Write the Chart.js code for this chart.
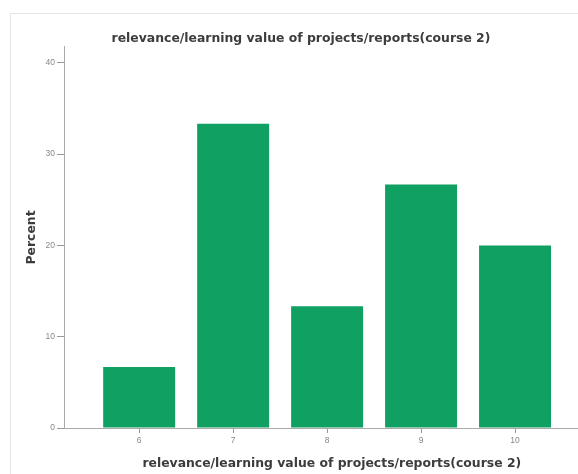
<!DOCTYPE html>
<html>
<head>
<meta charset="utf-8">
<script src="https://cdn.jsdelivr.net/npm/chart.js@4"></script>
<style>
  html, body { margin: 0; padding: 0; background: #fff; }
  #wrap { position: relative; width: 578px; height: 474px; }
  #frame { position: absolute; left: 10px; top: 13px; right: 0; bottom: 0;
           border-left: 1px solid #e4e4e4; border-top: 1px solid #e4e4e4; }
  canvas { position: absolute; left: 0; top: 0; }
</style>
</head>
<body>
<div id="wrap">
  <div id="frame"></div>
  <canvas id="myChart" width="578" height="474"></canvas>
</div>
<script>
const categories = [6, 7, 8, 9, 10];
const percents = [6.67, 33.33, 13.33, 26.67, 20.0];
const yTicks = [0, 10, 20, 30, 40];
const titleText = 'relevance/learning value of projects/reports(course 2)';

const labelFont = { family: 'DejaVu Sans', size: 12.4, weight: 'bold', lineHeight: 1.2 };

const ctx = document.getElementById('myChart').getContext('2d');
const myChart = new Chart(ctx, {
  type: 'bar',
  data: {
    datasets: [{
      label: 'Percent',
      data: categories.map((c, i) => ({ x: c, y: percents[i] })),
      backgroundColor: '#10a062',
      borderWidth: 0,
      categoryPercentage: 1,
      barPercentage: 0.766
    }]
  },
  options: {
    responsive: false,
    animation: false,
    layout: { padding: { left: 24 } },
    plugins: {
      legend: { display: false },
      tooltip: { enabled: false },
      title: {
        display: true,
        text: titleText,
        color: '#3c3c3c',
        font: labelFont,
        padding: { top: 31, bottom: 1 }
      }
    },
    scales: {
      x: {
        type: 'linear',
        offset: false,
        min: 5.2,
        max: 10.67,
        afterBuildTicks: s => { s.ticks = categories.map(v => ({ value: v })); },
        afterFit: s => { s.height = 46; },
        grid: { drawOnChartArea: false, offset: false, color: '#999', tickLength: 5 },
        border: { color: '#aaa' },
        ticks: { color: '#888', font: { family: 'Liberation Sans', size: 8.5 }, padding: 3, maxRotation: 0 },
        title: {
          display: true,
          text: '     ' + titleText,
          color: '#3c3c3c',
          font: labelFont,
          padding: { top: 6, bottom: 3 }
        }
      },
      y: {
        min: 0,
        max: 41.75,
        afterBuildTicks: s => { s.ticks = yTicks.map(v => ({ value: v })); },
        afterFit: s => { s.width = 40; },
        grid: { drawOnChartArea: false, color: '#999', tickLength: 7 },
        border: { color: '#aaa' },
        ticks: { color: '#888', font: { family: 'Liberation Sans', size: 8.5 }, padding: 2 },
        title: {
          display: true,
          text: 'Percent',
          color: '#3c3c3c',
          font: labelFont,
          padding: { top: 0 }
        }
      }
    }
  }
});
</script>
</body>
</html>
